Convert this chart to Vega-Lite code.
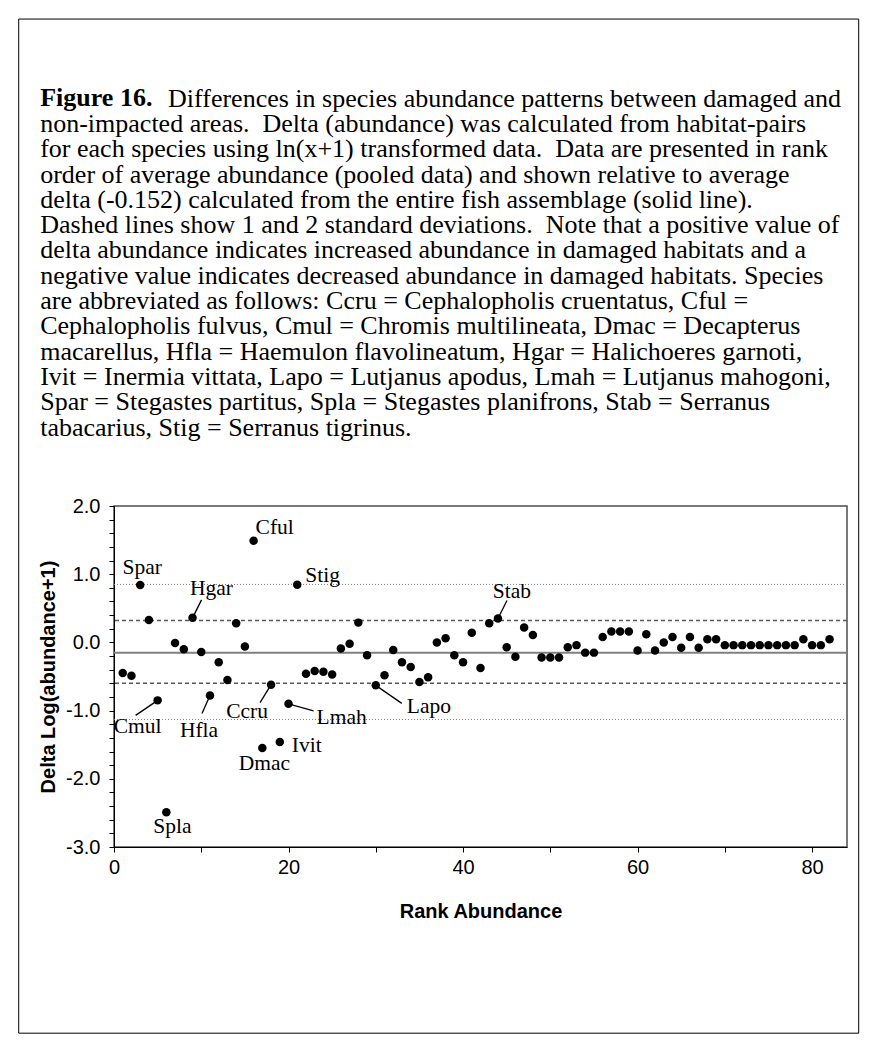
{
  "$schema": "https://vega.github.io/schema/vega-lite/v6.json",
  "width": 733,
  "height": 341,
  "padding": {"left": 18, "top": 18, "right": 5, "bottom": 5},
  "background": "white",
  "title": {
    "text": "Figure 16.",
    "subtitle": [
      "\u200b\u2003\u2003\u2003\u2003\u2002\u00a0\u200a\u200aDifferences in species abundance patterns between damaged and",
      "non-impacted areas. \u00a0Delta (abundance) was calculated from habitat-pairs",
      "for each species using ln(x+1) transformed data. \u00a0Data are presented in rank",
      "order of average abundance (pooled data) and shown relative to average",
      "delta (-0.152) calculated from the entire fish assemblage (solid line).",
      "Dashed lines show 1 and 2 standard deviations. \u00a0Note that a positive value of",
      "delta abundance indicates increased abundance in damaged habitats and a",
      "negative value indicates decreased abundance in damaged habitats. Species",
      "are abbreviated as follows: Ccru = Cephalopholis cruentatus, Cful =",
      "Cephalopholis fulvus, Cmul = Chromis multilineata, Dmac = Decapterus",
      "macarellus, Hfla = Haemulon flavolineatum, Hgar = Halichoeres garnoti,",
      "Ivit = Inermia vittata, Lapo = Lutjanus apodus, Lmah = Lutjanus mahogoni,",
      "Spar = Stegastes partitus, Spla = Stegastes planifrons, Stab = Serranus",
      "tabacarius, Stig = Serranus tigrinus."
    ],
    "anchor": "start",
    "frame": "bounds",
    "dx": 22,
    "offset": -422,
    "font": "Liberation Serif",
    "fontSize": 26,
    "fontWeight": "bold",
    "color": "black",
    "lineHeight": 25.3,
    "subtitleFont": "Liberation Serif",
    "subtitleFontSize": 26,
    "subtitleFontWeight": "normal",
    "subtitleColor": "black",
    "subtitleLineHeight": 25.3,
    "subtitlePadding": -25
  },
  "data": {
    "values": [
      {"rank": 1, "delta": -0.45, "label": ""},
      {"rank": 2, "delta": -0.49, "label": ""},
      {"rank": 3, "delta": 0.84, "label": "Spar"},
      {"rank": 4, "delta": 0.33, "label": ""},
      {"rank": 5, "delta": -0.85, "label": "Cmul"},
      {"rank": 6, "delta": -2.49, "label": "Spla"},
      {"rank": 7, "delta": -0.01, "label": ""},
      {"rank": 8, "delta": -0.1, "label": ""},
      {"rank": 9, "delta": 0.36, "label": "Hgar"},
      {"rank": 10, "delta": -0.14, "label": ""},
      {"rank": 11, "delta": -0.78, "label": "Hfla"},
      {"rank": 12, "delta": -0.29, "label": ""},
      {"rank": 13, "delta": -0.55, "label": ""},
      {"rank": 14, "delta": 0.28, "label": ""},
      {"rank": 15, "delta": -0.06, "label": ""},
      {"rank": 16, "delta": 1.49, "label": "Cful"},
      {"rank": 17, "delta": -1.55, "label": "Dmac"},
      {"rank": 18, "delta": -0.62, "label": "Ccru"},
      {"rank": 19, "delta": -1.46, "label": "Ivit"},
      {"rank": 20, "delta": -0.9, "label": "Lmah"},
      {"rank": 21, "delta": 0.845, "label": "Stig"},
      {"rank": 22, "delta": -0.46, "label": ""},
      {"rank": 23, "delta": -0.42, "label": ""},
      {"rank": 24, "delta": -0.43, "label": ""},
      {"rank": 25, "delta": -0.47, "label": ""},
      {"rank": 26, "delta": -0.09, "label": ""},
      {"rank": 27, "delta": -0.02, "label": ""},
      {"rank": 28, "delta": 0.29, "label": ""},
      {"rank": 29, "delta": -0.19, "label": ""},
      {"rank": 30, "delta": -0.63, "label": "Lapo"},
      {"rank": 31, "delta": -0.48, "label": ""},
      {"rank": 32, "delta": -0.11, "label": ""},
      {"rank": 33, "delta": -0.29, "label": ""},
      {"rank": 34, "delta": -0.36, "label": ""},
      {"rank": 35, "delta": -0.58, "label": ""},
      {"rank": 36, "delta": -0.51, "label": ""},
      {"rank": 37, "delta": 0.0, "label": ""},
      {"rank": 38, "delta": 0.06, "label": ""},
      {"rank": 39, "delta": -0.19, "label": ""},
      {"rank": 40, "delta": -0.29, "label": ""},
      {"rank": 41, "delta": 0.14, "label": ""},
      {"rank": 42, "delta": -0.375, "label": ""},
      {"rank": 43, "delta": 0.28, "label": ""},
      {"rank": 44, "delta": 0.35, "label": "Stab"},
      {"rank": 45, "delta": -0.07, "label": ""},
      {"rank": 46, "delta": -0.21, "label": ""},
      {"rank": 47, "delta": 0.22, "label": ""},
      {"rank": 48, "delta": 0.11, "label": ""},
      {"rank": 49, "delta": -0.22, "label": ""},
      {"rank": 50, "delta": -0.22, "label": ""},
      {"rank": 51, "delta": -0.22, "label": ""},
      {"rank": 52, "delta": -0.07, "label": ""},
      {"rank": 53, "delta": -0.04, "label": ""},
      {"rank": 54, "delta": -0.15, "label": ""},
      {"rank": 55, "delta": -0.15, "label": ""},
      {"rank": 56, "delta": 0.08, "label": ""},
      {"rank": 57, "delta": 0.16, "label": ""},
      {"rank": 58, "delta": 0.16, "label": ""},
      {"rank": 59, "delta": 0.16, "label": ""},
      {"rank": 60, "delta": -0.12, "label": ""},
      {"rank": 61, "delta": 0.12, "label": ""},
      {"rank": 62, "delta": -0.12, "label": ""},
      {"rank": 63, "delta": 0.0, "label": ""},
      {"rank": 64, "delta": 0.08, "label": ""},
      {"rank": 65, "delta": -0.08, "label": ""},
      {"rank": 66, "delta": 0.08, "label": ""},
      {"rank": 67, "delta": -0.08, "label": ""},
      {"rank": 68, "delta": 0.045, "label": ""},
      {"rank": 69, "delta": 0.045, "label": ""},
      {"rank": 70, "delta": -0.04, "label": ""},
      {"rank": 71, "delta": -0.04, "label": ""},
      {"rank": 72, "delta": -0.04, "label": ""},
      {"rank": 73, "delta": -0.04, "label": ""},
      {"rank": 74, "delta": -0.04, "label": ""},
      {"rank": 75, "delta": -0.04, "label": ""},
      {"rank": 76, "delta": -0.04, "label": ""},
      {"rank": 77, "delta": -0.04, "label": ""},
      {"rank": 78, "delta": -0.04, "label": ""},
      {"rank": 79, "delta": 0.045, "label": ""},
      {"rank": 80, "delta": -0.04, "label": ""},
      {"rank": 81, "delta": -0.04, "label": ""},
      {"rank": 82, "delta": 0.045, "label": ""}
    ]
  },
  "layer": [
    {
      "data": {"values": [{}]},
      "mark": {"type": "rule", "color": "#7f7f7f", "strokeWidth": 1, "strokeDash": [1, 2]},
      "encoding": {"y": {"datum": 0.85, "type": "quantitative", "scale": {"domain": [-3, 2], "nice": false, "zero": false}}}
    },
    {
      "data": {"values": [{}]},
      "mark": {"type": "rule", "color": "#7f7f7f", "strokeWidth": 1, "strokeDash": [1, 2]},
      "encoding": {"y": {"datum": -1.13, "type": "quantitative", "scale": {"domain": [-3, 2], "nice": false, "zero": false}}}
    },
    {
      "data": {"values": [{}]},
      "mark": {"type": "rule", "color": "#595959", "strokeWidth": 1.5, "strokeDash": [4, 3]},
      "encoding": {"y": {"datum": 0.32, "type": "quantitative", "scale": {"domain": [-3, 2], "nice": false, "zero": false}}}
    },
    {
      "data": {"values": [{}]},
      "mark": {"type": "rule", "color": "#595959", "strokeWidth": 1.5, "strokeDash": [4, 3]},
      "encoding": {"y": {"datum": -0.6, "type": "quantitative", "scale": {"domain": [-3, 2], "nice": false, "zero": false}}}
    },
    {
      "data": {"values": [{}]},
      "mark": {"type": "rule", "color": "#808080", "strokeWidth": 2},
      "encoding": {"y": {"datum": -0.152, "type": "quantitative", "scale": {"domain": [-3, 2], "nice": false, "zero": false}}}
    },
    {
      "mark": {"type": "point", "filled": true, "color": "black", "opacity": 1, "size": 72, "strokeWidth": 0},
      "encoding": {
        "x": {
          "field": "rank", "type": "quantitative",
          "scale": {"domain": [0, 84], "nice": false, "zero": false},
          "axis": {
            "title": "Rank Abundance",
            "values": [0, 10, 20, 30, 40, 50, 60, 70, 80],
            "tickCount": 20,
            "labelExpr": "datum.value % 20 === 0 ? format(datum.value, 'd') : ''",
            "labelFlush": false,
            "labelOverlap": false,
            "labelPadding": 5,
            "titlePadding": 24
          }
        },
        "y": {
          "field": "delta", "type": "quantitative",
          "scale": {"domain": [-3, 2], "nice": false, "zero": false},
          "axis": {
            "title": "Delta Log(abundance+1)",
            "values": [-3, -2.8, -2.6, -2.4, -2.2, -2, -1.8, -1.6, -1.4, -1.2, -1, -0.8, -0.6, -0.4, -0.2, 0, 0.2, 0.4, 0.6, 0.8, 1, 1.2, 1.4, 1.6, 1.8, 2],
            "tickCount": 40,
            "labelExpr": "abs(datum.value - round(datum.value)) < 0.001 ? (datum.value < -0.001 ? '-' : '') + format(abs(datum.value), '.1f') : ''",
            "labelOverlap": false,
            "labelPadding": 9,
            "titlePadding": 7
          }
        }
      }
    },
    {
      "transform": [{"filter": "datum.label === 'Hgar'"}],
      "mark": {"type": "rule", "color": "black", "strokeWidth": 1.3, "x2Offset": 9, "y2Offset": -18},
      "encoding": {
        "x": {"field": "rank", "type": "quantitative", "scale": {"domain": [0, 84], "nice": false, "zero": false}},
        "y": {"field": "delta", "type": "quantitative", "scale": {"domain": [-3, 2], "nice": false, "zero": false}},
        "x2": {"field": "rank"}, "y2": {"field": "delta"}
      }
    },
    {
      "transform": [{"filter": "datum.label === 'Stab'"}],
      "mark": {"type": "rule", "color": "black", "strokeWidth": 1.3, "x2Offset": 9, "y2Offset": -18},
      "encoding": {
        "x": {"field": "rank", "type": "quantitative", "scale": {"domain": [0, 84], "nice": false, "zero": false}},
        "y": {"field": "delta", "type": "quantitative", "scale": {"domain": [-3, 2], "nice": false, "zero": false}},
        "x2": {"field": "rank"}, "y2": {"field": "delta"}
      }
    },
    {
      "transform": [{"filter": "datum.label === 'Cmul'"}],
      "mark": {"type": "rule", "color": "black", "strokeWidth": 1.3, "x2Offset": -22, "y2Offset": 15},
      "encoding": {
        "x": {"field": "rank", "type": "quantitative", "scale": {"domain": [0, 84], "nice": false, "zero": false}},
        "y": {"field": "delta", "type": "quantitative", "scale": {"domain": [-3, 2], "nice": false, "zero": false}},
        "x2": {"field": "rank"}, "y2": {"field": "delta"}
      }
    },
    {
      "transform": [{"filter": "datum.label === 'Hfla'"}],
      "mark": {"type": "rule", "color": "black", "strokeWidth": 1.3, "x2Offset": -8, "y2Offset": 18},
      "encoding": {
        "x": {"field": "rank", "type": "quantitative", "scale": {"domain": [0, 84], "nice": false, "zero": false}},
        "y": {"field": "delta", "type": "quantitative", "scale": {"domain": [-3, 2], "nice": false, "zero": false}},
        "x2": {"field": "rank"}, "y2": {"field": "delta"}
      }
    },
    {
      "transform": [{"filter": "datum.label === 'Ccru'"}],
      "mark": {"type": "rule", "color": "black", "strokeWidth": 1.3, "x2Offset": -11, "y2Offset": 18},
      "encoding": {
        "x": {"field": "rank", "type": "quantitative", "scale": {"domain": [0, 84], "nice": false, "zero": false}},
        "y": {"field": "delta", "type": "quantitative", "scale": {"domain": [-3, 2], "nice": false, "zero": false}},
        "x2": {"field": "rank"}, "y2": {"field": "delta"}
      }
    },
    {
      "transform": [{"filter": "datum.label === 'Lmah'"}],
      "mark": {"type": "rule", "color": "black", "strokeWidth": 1.3, "x2Offset": 25, "y2Offset": 7},
      "encoding": {
        "x": {"field": "rank", "type": "quantitative", "scale": {"domain": [0, 84], "nice": false, "zero": false}},
        "y": {"field": "delta", "type": "quantitative", "scale": {"domain": [-3, 2], "nice": false, "zero": false}},
        "x2": {"field": "rank"}, "y2": {"field": "delta"}
      }
    },
    {
      "transform": [{"filter": "datum.label === 'Lapo'"}],
      "mark": {"type": "rule", "color": "black", "strokeWidth": 1.3, "x2Offset": 26, "y2Offset": 18},
      "encoding": {
        "x": {"field": "rank", "type": "quantitative", "scale": {"domain": [0, 84], "nice": false, "zero": false}},
        "y": {"field": "delta", "type": "quantitative", "scale": {"domain": [-3, 2], "nice": false, "zero": false}},
        "x2": {"field": "rank"}, "y2": {"field": "delta"}
      }
    },
    {
      "transform": [{"filter": "datum.label === 'Spar'"}],
      "mark": {"type": "text", "align": "center", "dx": 2, "dy": -11},
      "encoding": {
        "x": {"field": "rank", "type": "quantitative", "scale": {"domain": [0, 84], "nice": false, "zero": false}},
        "y": {"field": "delta", "type": "quantitative", "scale": {"domain": [-3, 2], "nice": false, "zero": false}},
        "text": {"field": "label"}
      }
    },
    {
      "transform": [{"filter": "datum.label === 'Cful'"}],
      "mark": {"type": "text", "align": "left", "dx": 2, "dy": -7},
      "encoding": {
        "x": {"field": "rank", "type": "quantitative", "scale": {"domain": [0, 84], "nice": false, "zero": false}},
        "y": {"field": "delta", "type": "quantitative", "scale": {"domain": [-3, 2], "nice": false, "zero": false}},
        "text": {"field": "label"}
      }
    },
    {
      "transform": [{"filter": "datum.label === 'Stig'"}],
      "mark": {"type": "text", "align": "left", "dx": 8, "dy": -3},
      "encoding": {
        "x": {"field": "rank", "type": "quantitative", "scale": {"domain": [0, 84], "nice": false, "zero": false}},
        "y": {"field": "delta", "type": "quantitative", "scale": {"domain": [-3, 2], "nice": false, "zero": false}},
        "text": {"field": "label"}
      }
    },
    {
      "transform": [{"filter": "datum.label === 'Hgar'"}],
      "mark": {"type": "text", "align": "center", "dx": 19, "dy": -23},
      "encoding": {
        "x": {"field": "rank", "type": "quantitative", "scale": {"domain": [0, 84], "nice": false, "zero": false}},
        "y": {"field": "delta", "type": "quantitative", "scale": {"domain": [-3, 2], "nice": false, "zero": false}},
        "text": {"field": "label"}
      }
    },
    {
      "transform": [{"filter": "datum.label === 'Stab'"}],
      "mark": {"type": "text", "align": "center", "dx": 14, "dy": -21},
      "encoding": {
        "x": {"field": "rank", "type": "quantitative", "scale": {"domain": [0, 84], "nice": false, "zero": false}},
        "y": {"field": "delta", "type": "quantitative", "scale": {"domain": [-3, 2], "nice": false, "zero": false}},
        "text": {"field": "label"}
      }
    },
    {
      "transform": [{"filter": "datum.label === 'Cmul'"}],
      "mark": {"type": "text", "align": "center", "dx": -20, "dy": 33},
      "encoding": {
        "x": {"field": "rank", "type": "quantitative", "scale": {"domain": [0, 84], "nice": false, "zero": false}},
        "y": {"field": "delta", "type": "quantitative", "scale": {"domain": [-3, 2], "nice": false, "zero": false}},
        "text": {"field": "label"}
      }
    },
    {
      "transform": [{"filter": "datum.label === 'Hfla'"}],
      "mark": {"type": "text", "align": "center", "dx": -11, "dy": 41},
      "encoding": {
        "x": {"field": "rank", "type": "quantitative", "scale": {"domain": [0, 84], "nice": false, "zero": false}},
        "y": {"field": "delta", "type": "quantitative", "scale": {"domain": [-3, 2], "nice": false, "zero": false}},
        "text": {"field": "label"}
      }
    },
    {
      "transform": [{"filter": "datum.label === 'Ccru'"}],
      "mark": {"type": "text", "align": "center", "dx": -24, "dy": 33},
      "encoding": {
        "x": {"field": "rank", "type": "quantitative", "scale": {"domain": [0, 84], "nice": false, "zero": false}},
        "y": {"field": "delta", "type": "quantitative", "scale": {"domain": [-3, 2], "nice": false, "zero": false}},
        "text": {"field": "label"}
      }
    },
    {
      "transform": [{"filter": "datum.label === 'Lmah'"}],
      "mark": {"type": "text", "align": "left", "dx": 28, "dy": 20},
      "encoding": {
        "x": {"field": "rank", "type": "quantitative", "scale": {"domain": [0, 84], "nice": false, "zero": false}},
        "y": {"field": "delta", "type": "quantitative", "scale": {"domain": [-3, 2], "nice": false, "zero": false}},
        "text": {"field": "label"}
      }
    },
    {
      "transform": [{"filter": "datum.label === 'Lapo'"}],
      "mark": {"type": "text", "align": "left", "dx": 31, "dy": 28},
      "encoding": {
        "x": {"field": "rank", "type": "quantitative", "scale": {"domain": [0, 84], "nice": false, "zero": false}},
        "y": {"field": "delta", "type": "quantitative", "scale": {"domain": [-3, 2], "nice": false, "zero": false}},
        "text": {"field": "label"}
      }
    },
    {
      "transform": [{"filter": "datum.label === 'Dmac'"}],
      "mark": {"type": "text", "align": "center", "dx": 2, "dy": 22},
      "encoding": {
        "x": {"field": "rank", "type": "quantitative", "scale": {"domain": [0, 84], "nice": false, "zero": false}},
        "y": {"field": "delta", "type": "quantitative", "scale": {"domain": [-3, 2], "nice": false, "zero": false}},
        "text": {"field": "label"}
      }
    },
    {
      "transform": [{"filter": "datum.label === 'Ivit'"}],
      "mark": {"type": "text", "align": "left", "dx": 12, "dy": 10},
      "encoding": {
        "x": {"field": "rank", "type": "quantitative", "scale": {"domain": [0, 84], "nice": false, "zero": false}},
        "y": {"field": "delta", "type": "quantitative", "scale": {"domain": [-3, 2], "nice": false, "zero": false}},
        "text": {"field": "label"}
      }
    },
    {
      "transform": [{"filter": "datum.label === 'Spla'"}],
      "mark": {"type": "text", "align": "center", "dx": 6, "dy": 21},
      "encoding": {
        "x": {"field": "rank", "type": "quantitative", "scale": {"domain": [0, 84], "nice": false, "zero": false}},
        "y": {"field": "delta", "type": "quantitative", "scale": {"domain": [-3, 2], "nice": false, "zero": false}},
        "text": {"field": "label"}
      }
    },
    {
      "data": {"values": [{}]},
      "mark": {"type": "rect", "filled": false, "color": "black", "strokeWidth": 1},
      "encoding": {
        "x": {"datum": -10.92, "type": "quantitative", "scale": {"domain": [0, 84], "nice": false, "zero": false}},
        "x2": {"datum": 85.34},
        "y": {"datum": 9.14, "type": "quantitative", "scale": {"domain": [-3, 2], "nice": false, "zero": false}},
        "y2": {"datum": -5.73}
      }
    }
  ],
  "config": {
    "view": {"stroke": "#4d4d4d", "strokeWidth": 1.5},
    "axis": {
      "grid": false,
      "domainColor": "black",
      "domainWidth": 1,
      "tickColor": "black",
      "tickWidth": 1,
      "tickSize": 5,
      "labelColor": "black",
      "titleColor": "black",
      "labelFont": "Liberation Sans",
      "titleFont": "Liberation Sans",
      "labelFontSize": 20,
      "titleFontSize": 20,
      "titleFontWeight": "bold",
      "labelOverlap": false,
      "labelFlush": false,
      "labelBound": false
    },
    "text": {"font": "Liberation Serif", "fontSize": 21.5, "color": "black", "baseline": "alphabetic"}
  }
}
